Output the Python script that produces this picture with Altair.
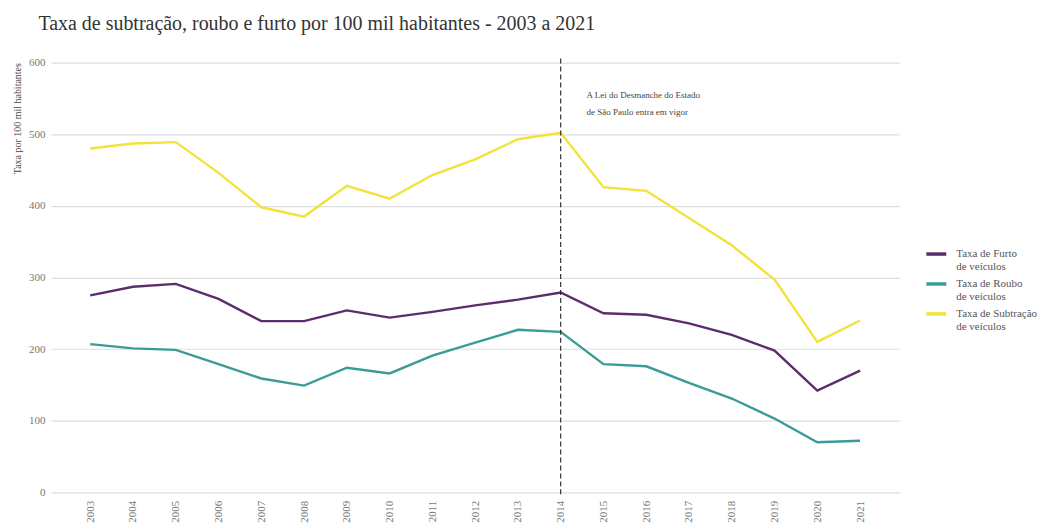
import altair as alt
import pandas as pd

years = list(range(2003, 2022))
furto = [275, 287, 291, 270, 239, 239, 254, 244, 252, 261, 269, 279, 250, 248, 236, 220, 198, 142, 170]
roubo = [207, 201, 199, 179, 159, 149, 174, 166, 191, 209, 227, 224, 179, 176, 153, 131, 103, 70, 72]
subtracao = [480, 487, 489, 446, 398, 385, 428, 410, 443, 465, 493, 502, 426, 421, 383, 345, 297, 210, 240]
series = ["Taxa de Furto|  de veículos", "Taxa de Roubo|  de veículos", "Taxa de Subtração|  de veículos"]
colors = ["#5c2d6b", "#3a9c98", "#f2e33c"]

rows = []
for name, vals in zip(series, [furto, roubo, subtracao]):
    for y, v in zip(years, vals):
        rows.append({"ano": str(y), "taxa": v, "serie": name})
df = pd.DataFrame(rows)

FONT = "Liberation Serif"
x_enc = alt.X("ano:O", title=None,
              scale=alt.Scale(type="point", padding=0.92),
              axis=alt.Axis(labelAngle=270, ticks=False, domain=False, labelPadding=8,
                            labelColor="#777", labelFontSize=11, labelFont=FONT))

legend_kw = dict(orient="none", legendX=876, legendY=180,
                 symbolType="stroke", symbolStrokeWidth=3.5, symbolSize=400,
                 labelExpr="split(datum.label, '|')",
                 labelFont=FONT, labelFontSize=11, labelColor="#555",
                 rowPadding=0, labelOffset=8)
try:
    leg = alt.Legend(**legend_kw, encode={"labels": {"update": {"lineHeight": {"value": 12}}}})
    leg.to_dict()
except Exception:
    leg = alt.Legend(**legend_kw)

lines = alt.Chart(df).mark_line(strokeWidth=2.4).encode(
    x=x_enc,
    y=alt.Y("taxa:Q", title="Taxa por 100 mil habitantes",
            scale=alt.Scale(domain=[0, 600], nice=False),
            axis=alt.Axis(values=[0, 100, 200, 300, 400, 500, 600], ticks=False, domain=False,
                          gridColor="#dedede", gridWidth=1.2, labelColor="#777", labelFontSize=11,
                          labelFont=FONT, labelPadding=6, titleFont=FONT, titleFontSize=10,
                          titleFontWeight="normal", titleColor="#444", titleAnchor="end",
                          titlePadding=6)),
    color=alt.Color("serie:N", title=None,
                    scale=alt.Scale(domain=series, range=colors),
                    legend=leg),
)

law = pd.DataFrame({"ano": ["2014"], "label": ["A Lei do Desmanche do Estado|de São Paulo entra em vigor"]})
rule = alt.Chart(law).mark_rule(color="#222", strokeDash=[5, 3], strokeWidth=1.1).encode(
    x="ano:O", y=alt.value(-4), y2=alt.value(435))
text = alt.Chart(law).transform_calculate(lines="split(datum.label, '|')").mark_text(
    align="left", baseline="top", dx=26, dy=29, font=FONT, fontSize=9, color="#444", lineHeight=17
).encode(x="ano:O", y=alt.value(0), text="lines:N")

chart = alt.layer(lines, rule, text).properties(
    width=851, height=431,
    title=alt.TitleParams("Taxa de subtração, roubo e furto por 100 mil habitantes - 2003 a 2021",
                          anchor="start", font=FONT, fontSize=20, fontWeight="normal",
                          color="#333", offset=23, dx=26),
    padding={"left": 4, "top": 5, "right": 5, "bottom": 5},
).configure_view(stroke=None).configure_axisX(grid=False)

chart.save("out.html", embed_options={"renderer": "svg", "actions": False})
